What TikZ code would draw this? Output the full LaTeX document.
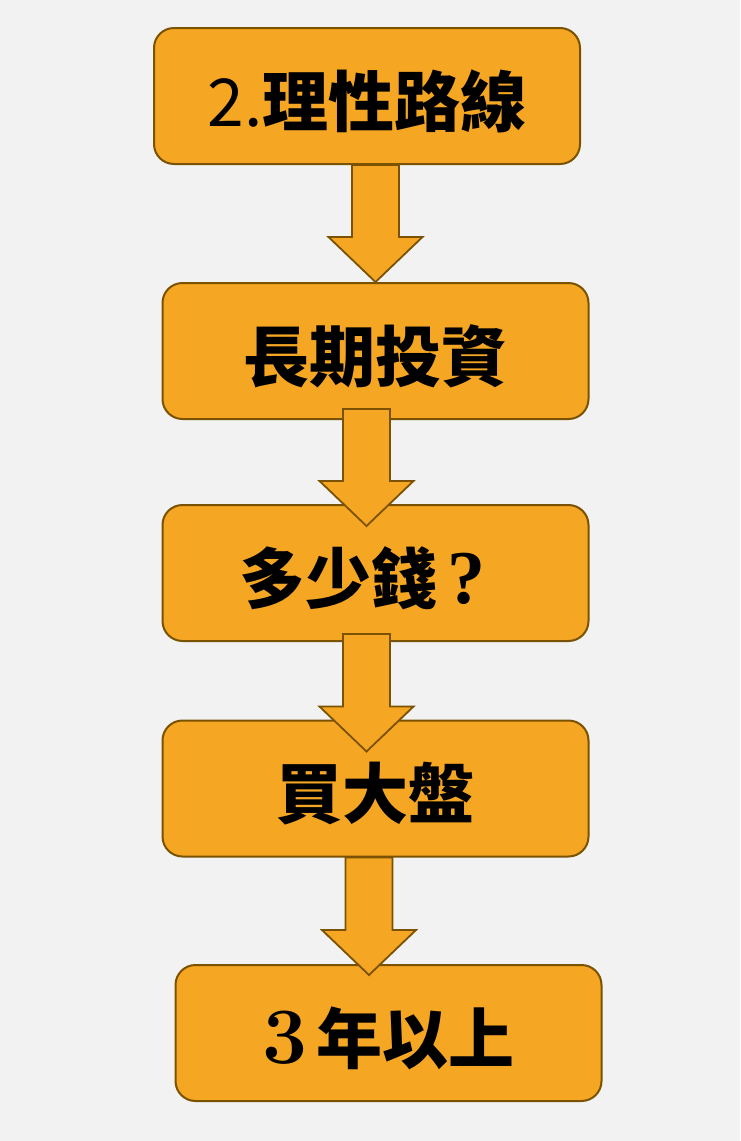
\documentclass[tikz,border=0pt]{standalone}
\usepackage{fontspec}
\newfontfamily\cjk{Noto Sans CJK TC}[BoldFont={Noto Sans CJK TC Black}]
\newfontfamily\qfont{Liberation Serif}
\usetikzlibrary{calc}
\definecolor{bg}{HTML}{F2F2F2}
\definecolor{boxfill}{HTML}{F5A623}
\definecolor{boxline}{HTML}{7A5200}
\tikzset{
  stepbox/.style={draw=boxline, fill=boxfill, line width=2pt, rounded corners=20pt,
    minimum width=426pt, minimum height=136pt, inner sep=0pt, text=black,
    text height=64pt, text depth=4pt,
    font=\cjk\bfseries\fontsize{66}{66}\selectfont},
  blockarrow/.style={draw=boxline, fill=boxfill, line width=1.8pt, line join=miter}
}
\newcommand\blockarr[2]{%
  \draw[blockarrow] ($(#1)+(-23.5,0)$) -- ($(#1)+(23.5,0)$) -- ($(#2)+(23.5,-45)$)
    -- ($(#2)+(47,-45)$) -- (#2) -- ($(#2)+(-47,-45)$) -- ($(#2)+(-23.5,-45)$) -- cycle;}
\begin{document}
\begin{tikzpicture}[x=1pt,y=-1pt]
  \fill[bg] (0,0) rectangle (740,1141);
  \useasboundingbox (0,0) rectangle (740,1141);
  \node[stepbox] (b1) at (367,96) {{\mdseries 2.}理性路線};
  \node[stepbox] (b2) at (375.5,351) {長期投資};
  \node[stepbox] (b3) at (375.5,573) {多少錢\kern10pt{\qfont\bfseries\fontsize{76}{76}\selectfont ?}\kern26pt\relax};
  \node[stepbox] (b4) at (375.5,788.5) {買大盤};
  \node[stepbox] (b5) at (388.5,1033) {{\rmfamily\bfseries\fontsize{80}{80}\selectfont 3}\kern8pt 年以上};
  \coordinate (a1s) at (b1.south -| b2.north);
  \coordinate (a1e) at (b2.north);
  \coordinate (a2s) at ($(b2.south)+(-9,-11)$);
  \coordinate (a2e) at ($(b3.north)+(-9,22)$);
  \coordinate (a3s) at ($(b3.south)+(-9,-8)$);
  \coordinate (a3e) at ($(b4.north)+(-9,32)$);
  \coordinate (a4s) at ($(b4.south)+(-6.5,0)$);
  \coordinate (a4e) at ($(b5.north)+(-19.5,11)$);
  \blockarr{a1s}{a1e}
  \blockarr{a2s}{a2e}
  \blockarr{a3s}{a3e}
  \blockarr{a4s}{a4e}
\end{tikzpicture}
\end{document}
